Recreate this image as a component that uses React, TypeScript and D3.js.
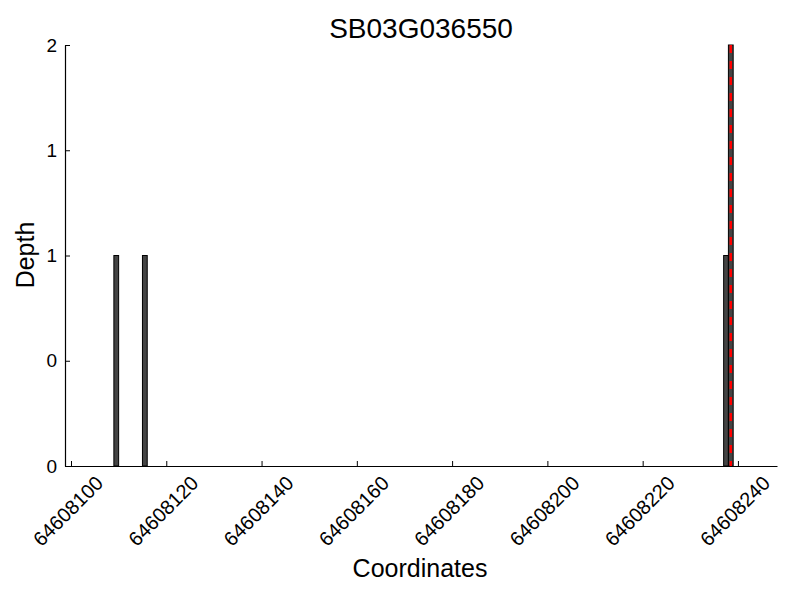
import React, { useEffect, useRef } from 'react';
import * as d3 from 'd3';

// coverage data
const positions = [64608109, 64608115, 64608237, 64608238];
const depths = [1, 1, 1, 2];
const markerPos = 64608238.5;
const xTicks = [64608100, 64608120, 64608140, 64608160, 64608180, 64608200, 64608220, 64608240];
const yTicks = [0, 0.5, 1, 1.5, 2];
const yTickLabels = ['0', '0', '1', '1', '2'];
const title = 'SB03G036550';

const FONT = '"Liberation Sans", Arial, Helvetica, sans-serif';

const App = () => {
  const chartRef = useRef<HTMLDivElement>(null);

  useEffect(() => {
    d3.select(chartRef.current).selectAll('*').remove();

    const width = 800;
    const height = 600;
    const left = 65;
    const right = 777;
    const top = 45;
    const bottom = 466;

    const svg = d3
      .select(chartRef.current)
      .append('svg')
      .attr('width', width)
      .attr('height', height)
      .style('position', 'absolute')
      .style('left', 0)
      .style('top', 0)
      .style('background', '#fff');

    const xScale = d3.scaleLinear().domain([64608098.74, 64608248.2]).range([left, right]);
    const yScale = d3.scaleLinear().domain([0, 2]).range([bottom, top]);

    // bars
    svg
      .selectAll('rect.bar')
      .data(positions)
      .enter()
      .append('rect')
      .attr('class', 'bar')
      .attr('x', (d) => xScale(d))
      .attr('y', (d, i) => yScale(depths[i]))
      .attr('width', (d) => xScale(d + 1) - xScale(d))
      .attr('height', (d, i) => yScale(0) - yScale(depths[i]))
      .attr('fill', '#444444')
      .attr('stroke', '#000')
      .attr('stroke-width', 1);

    // marker line
    svg
      .append('line')
      .attr('x1', xScale(markerPos))
      .attr('x2', xScale(markerPos))
      .attr('y1', yScale(2))
      .attr('y2', yScale(0))
      .attr('stroke', '#ff0000')
      .attr('stroke-width', 2.5)
      .attr('stroke-dasharray', '8,8');

    // x axis
    const xAxis = d3.axisBottom(xScale).tickValues(xTicks).tickSizeInner(-5).tickSizeOuter(0).tickFormat(() => '');
    const gx = svg.append('g').attr('transform', `translate(0,${bottom})`).call(xAxis);
    gx.select('.domain').attr('stroke', '#000').attr('stroke-width', 1.2);
    gx.selectAll('.tick line').attr('stroke', '#000');

    svg
      .selectAll('text.xtick')
      .data(xTicks)
      .enter()
      .append('text')
      .attr('class', 'xtick')
      .attr('transform', (d) => `translate(${xScale(d) - 3},${bottom + 45}) rotate(-45)`)
      .attr('text-anchor', 'middle')
      .attr('dominant-baseline', 'central')
      .attr('font-family', FONT)
      .attr('font-size', 20)
      .attr('fill', '#000')
      .text((d) => String(d));

    // y axis
    const yAxis = d3
      .axisLeft(yScale)
      .tickValues(yTicks)
      .tickSizeInner(-5)
      .tickSizeOuter(0)
      .tickPadding(8)
      .tickFormat((d, i) => yTickLabels[i]);
    const gy = svg.append('g').attr('transform', `translate(${left},0)`).call(yAxis);
    gy.select('.domain').attr('stroke', '#000').attr('stroke-width', 1.2);
    gy.selectAll('.tick line').attr('stroke', '#000');
    gy.selectAll('.tick text').attr('font-family', FONT).attr('font-size', 19).attr('fill', '#000');

    // title and labels
    svg
      .append('text')
      .attr('x', 421)
      .attr('y', 38)
      .attr('text-anchor', 'middle')
      .attr('font-family', FONT)
      .attr('font-size', 28)
      .text(title);

    svg
      .append('text')
      .attr('x', 420)
      .attr('y', 577)
      .attr('text-anchor', 'middle')
      .attr('font-family', FONT)
      .attr('font-size', 25)
      .text('Coordinates');

    svg
      .append('text')
      .attr('transform', `translate(34,255) rotate(-90)`)
      .attr('text-anchor', 'middle')
      .attr('font-family', FONT)
      .attr('font-size', 25)
      .text('Depth');
  }, []);

  return <div ref={chartRef}></div>;
};

export default App;
